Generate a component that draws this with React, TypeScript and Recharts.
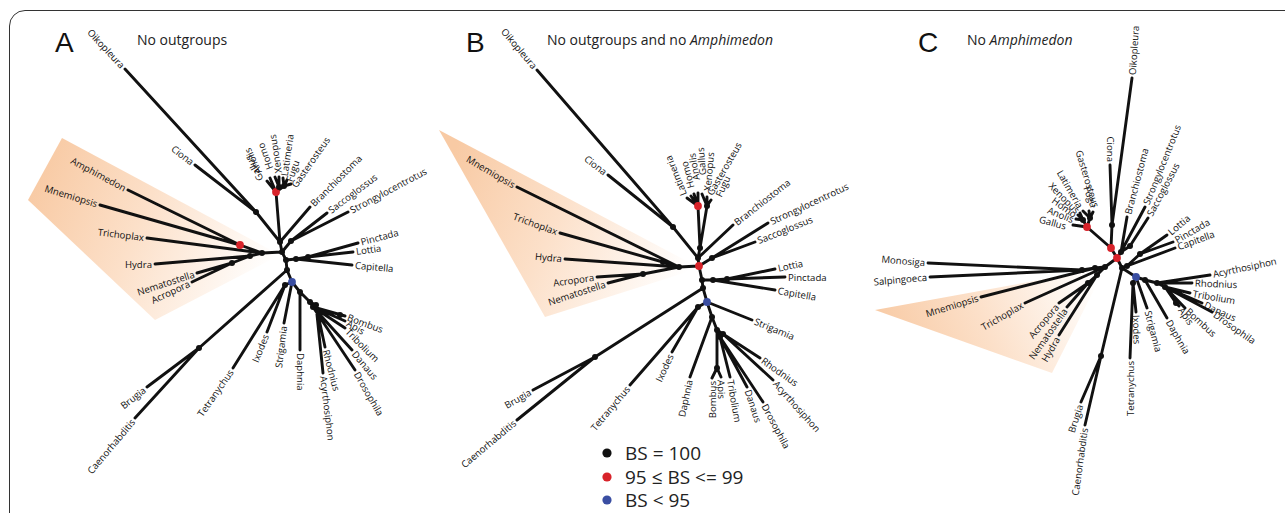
import React from 'react';
import { ScatterChart, Scatter, XAxis, YAxis } from 'recharts';

// node: id, x, y, bootstrap; edge: from, to
// tip: name, x, y, parent, label angle, anchor, optional label nudge dx, dy
type N = [string, number, number, number];
type E = [string, string];
type T = [string, number, number, string, number, 'start' | 'end', number?, number?];

const W = 1285;
const H = 513;

// A: no outgroups
const nodesA: N[] = [
  ['oc', 256, 212, 100], ['vert', 276, 192, 97], ['v1', 279, 187, 100], ['v2', 284, 186, 100],
  ['deu', 280, 242, 100], ['amb', 291, 241, 100], ['c0', 282, 252, 100], ['cten', 240, 245, 97],
  ['e', 262, 253, 100], ['d', 250, 256, 100], ['cn', 232, 263, 100], ['p0', 286, 260, 100],
  ['l1', 296, 259, 100], ['l2', 308, 257, 100], ['p1', 287, 270, 100], ['nem', 199, 348, 100],
  ['bl', 292, 282, 90], ['ch', 285, 285, 100], ['pan', 300, 292, 100], ['i1', 310, 302, 100],
  ['i2', 313, 307, 100], ['hy', 316, 305, 100], ['bom', 340, 315, 100],
];
const edgesA: E[] = [
  ['oc', 'deu'], ['vert', 'deu'], ['v1', 'vert'], ['v2', 'vert'], ['deu', 'c0'], ['amb', 'c0'],
  ['cten', 'e'], ['d', 'e'], ['cn', 'd'], ['e', 'c0'], ['c0', 'p0'], ['l2', 'l1'], ['l1', 'p0'],
  ['p0', 'p1'], ['nem', 'p1'], ['p1', 'bl'], ['ch', 'bl'], ['pan', 'bl'], ['i1', 'pan'],
  ['i2', 'i1'], ['hy', 'i1'],
];
const tipsA: T[] = [
  ['Oikopleura', 125, 69, 'oc', 47, 'end'], ['Ciona', 195, 165, 'oc', 38, 'end'],
  ['Gallus', 267, 181, 'vert', -118, 'start', -5, 2], ['Anolis', 270, 178, 'vert', -115, 'start', -10, -2],
  ['Homo', 275, 177, 'v1', -110, 'start', -4, -5], ['Xenopus', 279, 177, 'v1', -99, 'start', 0, -1],
  ['Latimeria', 283, 178, 'v2', -82, 'start', 1, 1], ['Fugu', 287, 180, 'v2', -70, 'start', 1, 4],
  ['Gasterosteus', 291, 184, 'v2', -55, 'start', 1, 5], ['Branchiostoma', 310, 207, 'deu', -45, 'start'],
  ['Saccoglossus', 327, 213, 'amb', -37, 'start'], ['Strongylocentrotus', 348, 212, 'amb', -28, 'start'],
  ['Amphimedon', 128, 190, 'cten', 28, 'end'], ['Mnemiopsis', 100, 205, 'cten', 17, 'end'],
  ['Trichoplax', 147, 238, 'e', 7, 'end'], ['Hydra', 155, 264, 'd', 0, 'end'],
  ['Nematostella', 197, 273, 'cn', -18, 'end'], ['Acropora', 192, 282, 'cn', -25, 'end'],
  ['Pinctada', 358, 243, 'l2', -15, 'start'], ['Lottia', 353, 252, 'l2', -8, 'start'],
  ['Capitella', 352, 265, 'l1', 5, 'start'], ['Brugia', 147, 387, 'nem', -38, 'end'],
  ['Caenorhabditis', 135, 418, 'nem', -50, 'end'], ['Tetranychus', 233, 368, 'ch', -55, 'end'],
  ['Ixodes', 267, 332, 'ch', -68, 'end'], ['Strigamia', 284, 323, 'bl', -83, 'end'],
  ['Daphnia', 300, 350, 'pan', 90, 'start'], ['Bombus', 345, 316, 'i2', 20, 'start'],
  ['Apis', 345, 321, 'i2', 30, 'start'], ['Tribolium', 345, 328, 'i2', 45, 'start'],
  ['Danaus', 352, 350, 'i2', 50, 'start'], ['Drosophila', 355, 370, 'i2', 60, 'start'],
  ['Rhodnius', 325, 347, 'hy', 75, 'start'], ['Acyrthosiphon', 323, 373, 'hy', 83, 'start'],
];
const shadeA = [{ x: 62, y: 138 }, { x: 28, y: 200 }, { x: 155, y: 320 }, { x: 280, y: 255 }];

// B: no outgroups and no Amphimedon
const nodesB: N[] = [
  ['oc', 673, 227, 100], ['vert', 698, 206, 97], ['v1', 707, 206, 100], ['vb', 700, 248, 100],
  ['q', 698, 258, 100], ['amb', 712, 258, 100], ['r', 699, 266, 97], ['n1', 679, 267, 100],
  ['n2', 663, 262, 100], ['cn', 643, 274, 100], ['a', 702, 280, 100], ['l1', 713, 280, 100],
  ['l2', 727, 279, 100], ['e', 703, 288, 100], ['nem', 595, 357, 100], ['bl', 707, 302, 90],
  ['ch', 698, 307, 100], ['p', 712, 317, 100], ['i1', 717, 330, 100], ['i2', 720, 337, 100],
  ['hy', 723, 334, 100], ['bom', 717, 368, 100],
];
const edgesB: E[] = [
  ['oc', 'q'], ['vert', 'vb'], ['v1', 'vb'], ['vb', 'q'], ['q', 'r'], ['amb', 'r'], ['n2', 'n1'],
  ['cn', 'n1'], ['n1', 'r'], ['r', 'a'], ['l2', 'l1'], ['l1', 'a'], ['a', 'e'], ['nem', 'e'],
  ['e', 'bl'], ['ch', 'bl'], ['p', 'bl'], ['i1', 'p'], ['i2', 'i1'], ['hy', 'i1'], ['bom', 'i1'],
];
const tipsB: T[] = [
  ['Oikopleura', 537, 70, 'oc', 50, 'end'], ['Ciona', 608, 175, 'oc', 38, 'end'],
  ['Latimeria', 687, 198, 'vert', -112, 'start', -2, 0], ['Homo', 691, 196, 'vert', -105, 'start', 1, -5],
  ['Anolis', 694, 194, 'vert', -100, 'start', 3, -11], ['Gallus', 698, 193, 'vert', -95, 'start', 5, -15],
  ['Xenopus', 702, 194, 'v1', -85, 'start', 5, 0], ['Gasterosteus', 707, 197, 'v1', -60, 'start', 1, 0],
  ['Fugu', 711, 200, 'v1', -65, 'start', 6, -1], ['Branchiostoma', 733, 225, 'q', -38, 'start'],
  ['Strongylocentrotus', 768, 223, 'amb', -25, 'start'], ['Saccoglossus', 755, 242, 'amb', -22, 'start'],
  ['Mnemiopsis', 517, 187, 'n1', 30, 'end'], ['Trichoplax', 560, 233, 'n2', 20, 'end'],
  ['Hydra', 565, 259, 'n1', 5, 'end'], ['Acropora', 597, 277, 'cn', -8, 'end'],
  ['Nematostella', 608, 283, 'cn', -18, 'end'], ['Lottia', 775, 269, 'l2', -12, 'start'],
  ['Pinctada', 785, 277, 'l2', 0, 'start'], ['Capitella', 775, 290, 'l1', 10, 'start'],
  ['Strigamia', 752, 320, 'bl', 22, 'start'], ['Tetranychus', 630, 385, 'ch', -50, 'end'],
  ['Ixodes', 672, 352, 'ch', -65, 'end'], ['Daphnia', 690, 377, 'p', -78, 'end'],
  ['Bombus', 712, 378, 'bom', -90, 'end'], ['Apis', 721, 377, 'bom', 88, 'start'],
  ['Tribolium', 730, 377, 'i2', 80, 'start'], ['Danaus', 747, 387, 'i2', 72, 'start'],
  ['Drosophila', 763, 402, 'i2', 62, 'start'], ['Rhodnius', 760, 358, 'hy', 35, 'start'],
  ['Acyrthosiphon', 773, 380, 'hy', 48, 'start'], ['Brugia', 533, 390, 'nem', -30, 'end'],
  ['Caenorhabditis', 517, 420, 'nem', -40, 'end'],
];
const shadeB = [{ x: 439, y: 130 }, { x: 545, y: 317 }, { x: 700, y: 268 }];

// C: no Amphimedon
const nodesC: N[] = [
  ['oc', 1112, 225, 100], ['k2', 1111, 248, 97], ['vert', 1087, 227, 97], ['v1', 1083, 220, 100],
  ['v2', 1090, 218, 100], ['k3', 1117, 258, 97], ['s', 1121, 252, 100], ['s2', 1130, 246, 100],
  ['lo0', 1127, 266, 100], ['lo', 1140, 254, 100], ['c2', 1105, 267, 100], ['c1', 1095, 268, 100],
  ['o', 1082, 270, 100], ['c3', 1097, 275, 100], ['c4', 1088, 283, 100], ['e', 1122, 268, 100],
  ['nem', 1101, 356, 100], ['bl', 1136, 277, 90], ['ch', 1133, 283, 100], ['d', 1145, 280, 100],
  ['i1', 1157, 283, 100], ['i2', 1165, 287, 100], ['ap', 1176, 303, 100],
];
const edgesC: E[] = [
  ['oc', 'k2'], ['vert', 'k2'], ['v1', 'vert'], ['v2', 'vert'], ['k2', 'k3'], ['s2', 's'],
  ['s', 'k3'], ['lo', 'lo0'], ['lo0', 'e'], ['c2', 'k3'], ['c1', 'c2'], ['o', 'c1'], ['c4', 'c3'],
  ['c3', 'c2'], ['k3', 'e'], ['e', 'bl'], ['nem', 'e'], ['ch', 'bl'], ['d', 'bl'], ['i1', 'd'],
  ['i2', 'i1'], ['ap', 'i2'],
];
const tipsC: T[] = [
  ['Oikopleura', 1132, 78, 'oc', -86, 'start'], ['Ciona', 1110, 165, 'oc', 90, 'end'],
  ['Gallus', 1073, 225, 'vert', 15, 'end', -4, 2], ['Anolis', 1076, 219, 'v1', 22, 'end', 0, 2],
  ['Homo', 1078, 215, 'v1', 35, 'end', 0, 2], ['Xenopus', 1080, 213, 'v1', 45, 'end', 0, 1],
  ['Latimeria', 1083, 211, 'v2', 60, 'end', -1, -1], ['Fugu', 1089, 211, 'v2', 70, 'end', 6, -1],
  ['Gasterosteus', 1093, 212, 'v2', 73, 'end', 4, -2], ['Branchiostoma', 1127, 217, 's', -75, 'start'],
  ['Strongylocentrotus', 1145, 207, 's', -68, 'start'], ['Saccoglossus', 1148, 218, 's2', -62, 'start'],
  ['Lottia', 1167, 235, 'lo', -40, 'start'], ['Pinctada', 1173, 242, 'lo', -30, 'start'],
  ['Capitella', 1175, 248, 'lo0', -20, 'start'], ['Monosiga', 928, 263, 'o', 5, 'end'],
  ['Salpingoeca', 930, 277, 'o', -5, 'end'], ['Mnemiopsis', 981, 297, 'c1', -17, 'end'],
  ['Trichoplax', 1025, 303, 'c2', -30, 'end'], ['Acropora', 1059, 303, 'c4', -50, 'end'],
  ['Nematostella', 1067, 307, 'c4', -55, 'end'], ['Hydra', 1059, 335, 'c3', -60, 'end'],
  ['Brugia', 1081, 402, 'nem', -72, 'end'], ['Caenorhabditis', 1085, 425, 'nem', -82, 'end'],
  ['Tetranychus', 1130, 358, 'ch', -90, 'end'], ['Ixodes', 1136, 312, 'ch', 88, 'start'],
  ['Strigamia', 1147, 308, 'bl', 75, 'start'], ['Daphnia', 1167, 318, 'd', 60, 'start'],
  ['Acyrthosiphon', 1210, 275, 'i1', -12, 'start'], ['Rhodnius', 1192, 283, 'i1', 2, 'start'],
  ['Tribolium', 1190, 293, 'i2', 10, 'start'], ['Danaus', 1202, 303, 'i2', 25, 'start'],
  ['Drosophila', 1212, 312, 'i2', 35, 'start'], ['Bombus', 1185, 308, 'i2', 42, 'start'],
  ['Apis', 1179, 306, 'ap', 55, 'start'],
];
const shadeC = [{ x: 875, y: 310 }, { x: 1052, y: 373 }, { x: 1105, y: 268 }];

const legendLabels = ['BS = 100', '95 \u2264 BS <= 99', 'BS < 95'];
const legendBS = [100, 97, 90];
const legendX = 607;
const legendY = [453, 477, 500];

const bsColor = (bs: number) => (bs >= 100 ? '#111' : bs >= 95 ? '#d8232a' : '#3a4ea2');

function buildPanel(nodes: N[], edges: E[], tips: T[]) {
  const pos: Record<string, { x: number; y: number }> = {};
  nodes.forEach(([id, x, y]) => (pos[id] = { x, y }));
  const segs: { x: number; y: number }[] = [];
  edges.forEach(([a, b]) => segs.push(pos[a], pos[b]));
  tips.forEach(([, x, y, to]) => segs.push({ x, y }, pos[to]));
  const dots = nodes.map(([, x, y, bs]) => ({ x, y, bs }));
  const labels = tips.map(([name, x, y, , angle, anchor, dx = 0, dy = 0]) => {
    const r = (angle * Math.PI) / 180;
    const s = anchor === 'start' ? 3 : -3;
    return { name, x: x + s * Math.cos(r) + dx, y: y + s * Math.sin(r) + dy, angle, anchor };
  });
  return { segs, dots, labels };
}

const panels = [buildPanel(nodesA, edgesA, tipsA), buildPanel(nodesB, edgesB, tipsB), buildPanel(nodesC, edgesC, tipsC)];
const shades = [shadeA, shadeB, shadeC];
const legendData = legendLabels.map((label, i) => ({ x: legendX, y: legendY[i], bs: legendBS[i], label }));

const blank = () => <g />;

// draws the flattened point list as separate segments, two points each
const segmentLine = (props: any) => {
  const pts = props.points || [];
  let d = '';
  for (let i = 0; i + 1 < pts.length; i += 2) d += `M${pts[i].x},${pts[i].y}L${pts[i + 1].x},${pts[i + 1].y}`;
  return <path d={d} stroke="#111" strokeWidth={2.9} fill="none" strokeLinecap="round" />;
};

const shadeLine = (id: string) => (props: any) => {
  const pts = (props.points || []).map((p: any) => `${p.x},${p.y}`).join(' ');
  return <polygon points={pts} fill={`url(#${id})`} stroke="none" />;
};

const Dot = (props: any) => {
  const { cx, cy, payload } = props;
  return <circle cx={cx} cy={cy} r={payload.bs >= 100 ? 3 : 3.9} fill={bsColor(payload.bs)} />;
};

const Label = (props: any) => {
  const { cx, cy, payload } = props;
  return (
    <text
      x={cx}
      y={cy}
      transform={`rotate(${payload.angle} ${cx} ${cy})`}
      textAnchor={payload.anchor}
      dominantBaseline="central"
      fontSize={9.6}
      fontFamily="Open Sans"
      fill="#111"
    >
      {payload.name}
    </text>
  );
};

const LegendItem = (props: any) => {
  const { cx, cy, payload } = props;
  return (
    <g>
      <circle cx={cx} cy={cy} r={4.6} fill={bsColor(payload.bs)} />
      <text x={cx + 18} y={cy + 6.5} fontSize={19} fontFamily="Open Sans" fill="#222">
        {payload.label}
      </text>
    </g>
  );
};

const letterStyle: React.CSSProperties = {
  position: 'absolute', fontFamily: 'Liberation Sans', fontSize: 28, lineHeight: '28px', color: '#111',
};
const titleStyle: React.CSSProperties = {
  position: 'absolute', fontFamily: 'Open Sans', fontSize: 14, lineHeight: '14px', color: '#222', whiteSpace: 'nowrap',
};

const Grad = ({ id, y1, y2 }: { id: string; y1: string; y2: string }) => (
  <linearGradient id={id} x1="0" y1={y1} x2="1" y2={y2}>
    <stop offset="0" stopColor="#f8caa4" />
    <stop offset="0.45" stopColor="#fce0c9" />
    <stop offset="1" stopColor="#ffffff" />
  </linearGradient>
);

export default function App() {
  return (
    <div style={{ position: 'absolute', left: 0, top: 0, width: W, height: H, overflow: 'hidden', background: '#fff' }}>
      <div
        style={{
          position: 'absolute', left: 9, top: 10, width: 1320, height: 600,
          border: '1.5px solid #333', borderRadius: 16,
        }}
      />
      <div style={{ ...letterStyle, left: 55, top: 29 }}>A</div>
      <div style={{ ...titleStyle, left: 137, top: 33 }}>No outgroups</div>
      <div style={{ ...letterStyle, left: 466, top: 29 }}>B</div>
      <div style={{ ...titleStyle, left: 547, top: 33 }}>
        No outgroups and no <i>Amphimedon</i>
      </div>
      <div style={{ ...letterStyle, left: 918, top: 29 }}>C</div>
      <div style={{ ...titleStyle, left: 967, top: 33 }}>
        No <i>Amphimedon</i>
      </div>
      <div style={{ position: 'absolute', left: 0, top: 0 }}>
        <ScatterChart width={W} height={H} margin={{ top: 0, right: 0, bottom: 0, left: 0 }}>
          <defs>
            <Grad id="gA" y1="0.3" y2="0.6" />
            <Grad id="gB" y1="0.3" y2="0.6" />
            <Grad id="gC" y1="0.5" y2="0.3" />
          </defs>
          <XAxis type="number" dataKey="x" domain={[0, W]} hide />
          <YAxis type="number" dataKey="y" domain={[0, H]} reversed hide />
          {shades.map((s, i) => (
            <Scatter
              key={`shade-${i}`}
              data={s}
              line={shadeLine(['gA', 'gB', 'gC'][i])}
              shape={blank}
              isAnimationActive={false}
            />
          ))}
          {panels.map((p, i) => (
            <Scatter key={`edges-${i}`} data={p.segs} line={segmentLine} shape={blank} isAnimationActive={false} />
          ))}
          {panels.map((p, i) => (
            <Scatter key={`dots-${i}`} data={p.dots} shape={Dot} isAnimationActive={false} />
          ))}
          {panels.map((p, i) => (
            <Scatter key={`labels-${i}`} data={p.labels} shape={Label} isAnimationActive={false} />
          ))}
          <Scatter data={legendData} shape={LegendItem} isAnimationActive={false} />
        </ScatterChart>
      </div>
    </div>
  );
}
